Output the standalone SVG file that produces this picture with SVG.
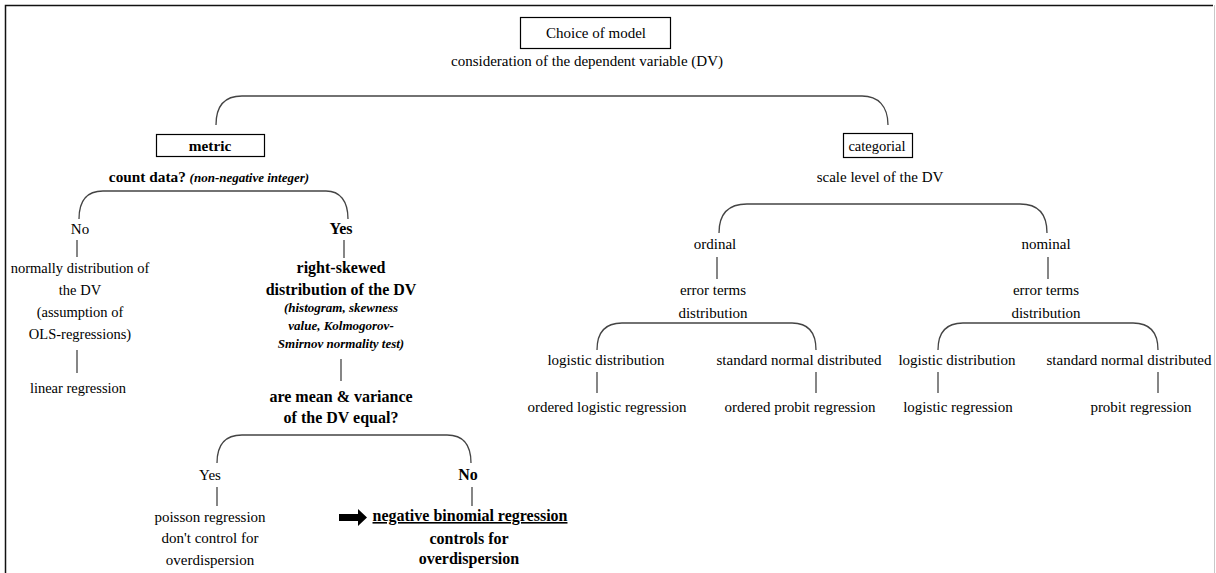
<svg xmlns="http://www.w3.org/2000/svg" width="1216" height="573" viewBox="0 0 1216 573">
<style>
text{font-family:"Liberation Serif","Times New Roman",serif;fill:#000;text-anchor:middle;font-size:15px}
.s{font-size:14.5px}
.b{font-weight:bold;font-size:16px}
.b2{font-weight:bold;font-size:15.3px}
.i{font-weight:bold;font-style:italic;font-size:13px}
.box{fill:#fff;stroke:#000;stroke-width:1.2}
.c{fill:none;stroke:#444;stroke-width:1.3}
</style>
<rect width="1216" height="573" fill="#fff"/>
<g id="frame">
<path d="M5.5,573 V5.5 H1213" fill="none" stroke="#111" stroke-width="1.5"/>
<path d="M1214.5,5 V573" fill="none" stroke="#c8c8c8" stroke-width="1"/>
</g>
<g id="connectors" class="c">
<path d="M216,125 C216,106 224,96 242,96 H862 C878,96 888,106 888,125"/>
<path d="M79,219 C79,201 87,191 103,191 H326 C340,191 348,201 348,219"/>
<path d="M77,240 V257"/><path d="M344,240 V258"/>
<path d="M77,350 V373"/><path d="M341,359 V381"/>
<path d="M217,463 C217,445 225,435 242,435 H447 C463,435 471,445 471,463"/>
<path d="M217,487 V506"/><path d="M472,487 V506"/>
<path d="M719,233 C719,214 728,204 747,204 H1020 C1038,204 1047,214 1047,233"/>
<path d="M717,257 V279"/><path d="M1048,257 V279"/>
<path d="M597,350 C597,333 604,323 622,323 H792 C809,323 816,333 816,350"/>
<path d="M938,350 C938,333 945,323 963,323 H1133 C1151,323 1158,333 1158,350"/>
<path d="M597,372 V393"/><path d="M816,372 V393"/><path d="M938,372 V393"/><path d="M1158,372 V393"/>
</g>
<g id="root"><rect class="box" x="520.5" y="17.5" width="150" height="31"/><text x="596" y="38">Choice of model</text>
<text x="587" y="66">consideration of the dependent variable (DV)</text></g>
<g id="metric"><rect class="box" x="156.5" y="134.5" width="108" height="22"/><text class="b2" x="210" y="151">metric</text>
<text x="209" y="182"><tspan class="b2">count data? </tspan><tspan class="i">(non-negative integer)</tspan></text></g>
<g id="categorial"><rect class="box" x="843.5" y="133.5" width="69" height="24"/><text class="s" x="877" y="151">categorial</text>
<text x="880" y="182">scale level of the DV</text></g>
<g id="no1"><text x="80" y="234">No</text></g>
<g id="normal"><text class="s" x="80" y="273">normally distribution of</text><text class="s" x="80" y="295">the DV</text><text class="s" x="80" y="317">(assumption of</text><text class="s" x="80" y="339">OLS-regressions)</text></g>
<g id="linear"><text class="s" x="78" y="393">linear regression</text></g>
<g id="yes1"><text class="b" x="341" y="234">Yes</text></g>
<g id="skew"><text class="b" x="341" y="273">right-skewed</text><text class="b" x="341" y="295">distribution of the DV</text>
<text class="i" x="341" y="312">(histogram, skewness</text><text class="i" x="341" y="330">value, Kolmogorov-</text><text class="i" x="341" y="348">Smirnov normality test)</text></g>
<g id="equal"><text class="b" x="341" y="402">are mean &amp; variance</text><text class="b" x="341" y="423">of the DV equal?</text></g>
<g id="yes2"><text x="210" y="480">Yes</text></g>
<g id="no2"><text class="b" x="468" y="480">No</text></g>
<g id="poisson"><text x="210" y="522">poisson regression</text><text x="210" y="543">don't control for</text><text x="210" y="565">overdispersion</text></g>
<g id="negbin"><path d="M339,514 H358 V509 L367,517.5 L358,526 V521 H339 Z" fill="#000"/>
<text class="b" x="470" y="521" text-decoration="underline">negative binomial regression</text>
<text class="b" x="469" y="544">controls for</text><text class="b" x="469" y="564">overdispersion</text></g>
<g id="ordinal"><text x="715" y="249">ordinal</text><text x="713" y="295">error terms</text><text x="713" y="318">distribution</text></g>
<g id="nominal"><text x="1046" y="249">nominal</text><text x="1046" y="295">error terms</text><text x="1046" y="318">distribution</text></g>
<g id="ord-log"><text x="606" y="365">logistic distribution</text><text x="607" y="412">ordered logistic regression</text></g>
<g id="ord-prob"><text x="799" y="365">standard normal distributed</text><text x="800" y="412">ordered probit regression</text></g>
<g id="nom-log"><text x="957" y="365">logistic distribution</text><text x="958" y="412">logistic regression</text></g>
<g id="nom-prob"><text x="1129" y="365">standard normal distributed</text><text x="1141" y="412">probit regression</text></g>
</svg>
